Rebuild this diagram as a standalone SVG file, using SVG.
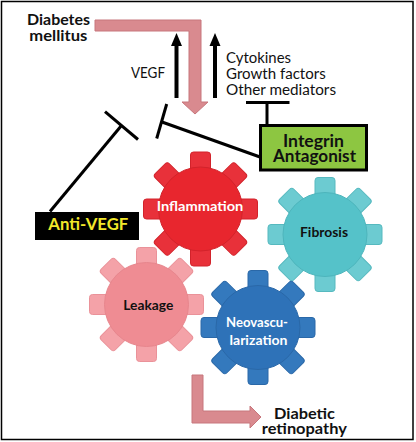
<svg xmlns="http://www.w3.org/2000/svg" xmlns:xlink="http://www.w3.org/1999/xlink" width="416" height="442" viewBox="0 0 416 442">
<style>
  .t { font-family: Lato, "Open Sans", "Liberation Sans", sans-serif; fill: #111; }
  .b { font-weight: bold; }
  .c { text-anchor: middle; }
  .inh { stroke: #000; stroke-width: 3; fill: none; stroke-linecap: butt; }
  .blk { stroke: #000; stroke-width: 4; fill: none; }
  .pink { fill: #d98a8f; stroke: #c7767c; stroke-width: 1; }
</style>
<defs>
  <g id="teeth">
    <rect x="-10" y="-57" width="20" height="24" rx="3"/>
    <rect x="-10" y="-57" width="20" height="24" rx="3" transform="rotate(45)"/>
    <rect x="-10" y="-57" width="20" height="24" rx="3" transform="rotate(90)"/>
    <rect x="-10" y="-57" width="20" height="24" rx="3" transform="rotate(135)"/>
    <rect x="-10" y="-57" width="20" height="24" rx="3" transform="rotate(180)"/>
    <rect x="-10" y="-57" width="20" height="24" rx="3" transform="rotate(225)"/>
    <rect x="-10" y="-57" width="20" height="24" rx="3" transform="rotate(270)"/>
    <rect x="-10" y="-57" width="20" height="24" rx="3" transform="rotate(315)"/>
  </g>
</defs>
<rect x="0" y="0" width="416" height="442" fill="#fff"/>
<rect x="1.5" y="1.5" width="411.5" height="438" fill="#fff" stroke="#000" stroke-width="1.5"/>

<g id="connectors">
  <!-- pink input arrow -->
  <path class="pink" d="M95,20 H201 V102 H208 L195,114 L182,102 H189 V31 H95 Z"/>
  <!-- pink output arrow -->
  <path class="pink" d="M192,375 H203 V411 H250 V406 L261,417 L250,428 V423 H192 Z"/>
  <!-- black upward arrows -->
  <line class="blk" x1="176.5" y1="98" x2="176.5" y2="44"/>
  <polygon points="171,46 182,46 176.5,33" fill="#000"/>
  <line class="blk" x1="215" y1="98" x2="215" y2="44"/>
  <polygon points="209.5,46 220.5,46 215,33" fill="#000"/>
  <!-- integrin -> other mediators inhibition -->
  <line class="inh" x1="246" y1="102.5" x2="289.5" y2="102.5"/>
  <line class="inh" x1="267" y1="102.5" x2="267" y2="125"/>
  <!-- integrin -> VEGF inhibition -->
  <line class="inh" x1="260" y1="157" x2="162" y2="122"/>
  <line class="inh" x1="166.7" y1="104" x2="156.7" y2="138.5"/>
  <!-- anti-VEGF inhibition -->
  <line class="inh" x1="50" y1="211.5" x2="121.5" y2="125.5"/>
  <line class="inh" x1="105" y1="111.7" x2="138" y2="139.5"/>
</g>

<g id="label-diabetes">
  <text class="t b c" x="58.5" y="25" font-size="15.5" textLength="63" lengthAdjust="spacingAndGlyphs">Diabetes</text>
  <text class="t b c" x="58.3" y="40.7" font-size="15.5" textLength="58" lengthAdjust="spacingAndGlyphs">mellitus</text>
</g>
<g id="label-vegf">
  <text class="t" x="131" y="77.5" font-size="14.5" textLength="34" lengthAdjust="spacingAndGlyphs">VEGF</text>
</g>
<g id="label-mediators">
  <text class="t" x="226" y="63.3" font-size="14.5" textLength="65" lengthAdjust="spacingAndGlyphs">Cytokines</text>
  <text class="t" x="226" y="79.3" font-size="14.5" textLength="99.7" lengthAdjust="spacingAndGlyphs">Growth factors</text>
  <text class="t" x="226" y="94.5" font-size="14.5" textLength="110" lengthAdjust="spacingAndGlyphs">Other mediators</text>
</g>

<g id="node-integrin">
  <rect x="260.5" y="125.5" width="106" height="44.5" fill="#8dc641" stroke="#000" stroke-width="3"/>
  <text class="t b c" x="313.5" y="146.5" font-size="16.5" textLength="61" lengthAdjust="spacingAndGlyphs">Integrin</text>
  <text class="t b c" x="314.5" y="162" font-size="16.5" textLength="83" lengthAdjust="spacingAndGlyphs">Antagonist</text>
</g>

<g id="node-antivegf">
  <rect x="35" y="212" width="104" height="28" fill="#000"/>
  <text class="t b c" x="88.3" y="229.5" font-size="17" fill="#f2e82a" style="fill:#f2e82a" textLength="80" lengthAdjust="spacingAndGlyphs">Anti-VEGF</text>
</g>

<g id="gear-fibrosis" transform="translate(325,234.5)">
  <use xlink:href="#teeth" fill="#6ccbd1" stroke="#56b9bf" stroke-width="1"/>
  <circle r="42" fill="#55c2c9" stroke="#4db5bc" stroke-width="1"/>
  <text class="t b c" x="-1" y="2.2" font-size="13.5" textLength="48" lengthAdjust="spacingAndGlyphs">Fibrosis</text>
</g>

<g id="gear-inflammation" transform="translate(200.5,209)">
  <use xlink:href="#teeth" fill="#e8313a" stroke="#d2232b" stroke-width="1"/>
  <circle r="42" fill="#e8262e" stroke="#d2232b" stroke-width="1"/>
  <text class="t b c" x="-0.5" y="2" font-size="14" style="fill:#fff" textLength="86.7" lengthAdjust="spacingAndGlyphs">Inflammation</text>
</g>

<g id="gear-leakage" transform="translate(146.5,304.5)">
  <use xlink:href="#teeth" fill="#f4a2a8" stroke="#ea9299" stroke-width="1"/>
  <circle r="42" fill="#ef8c93" stroke="#e7868d" stroke-width="1"/>
  <text class="t b c" x="1.8" y="5.5" font-size="13.5" textLength="50" lengthAdjust="spacingAndGlyphs">Leakage</text>
</g>

<g id="gear-neovascularization" transform="translate(258,327.5)">
  <use xlink:href="#teeth" fill="#3479bd" stroke="#2a68a8" stroke-width="1"/>
  <circle r="42" fill="#2e72b8" stroke="#2a68a8" stroke-width="1"/>
  <text class="t b c" x="-1" y="-0.5" font-size="13.5" style="fill:#fff" textLength="62" lengthAdjust="spacingAndGlyphs">Neovascu-</text>
  <text class="t b c" x="0.5" y="17" font-size="13.5" style="fill:#fff" textLength="58" lengthAdjust="spacingAndGlyphs">larization</text>
</g>

<g id="label-retinopathy">
  <text class="t b c" x="304.5" y="419.3" font-size="15.8" textLength="61" lengthAdjust="spacingAndGlyphs">Diabetic</text>
  <text class="t b c" x="304.3" y="434" font-size="15.8" textLength="85" lengthAdjust="spacingAndGlyphs">retinopathy</text>
</g>
</svg>
